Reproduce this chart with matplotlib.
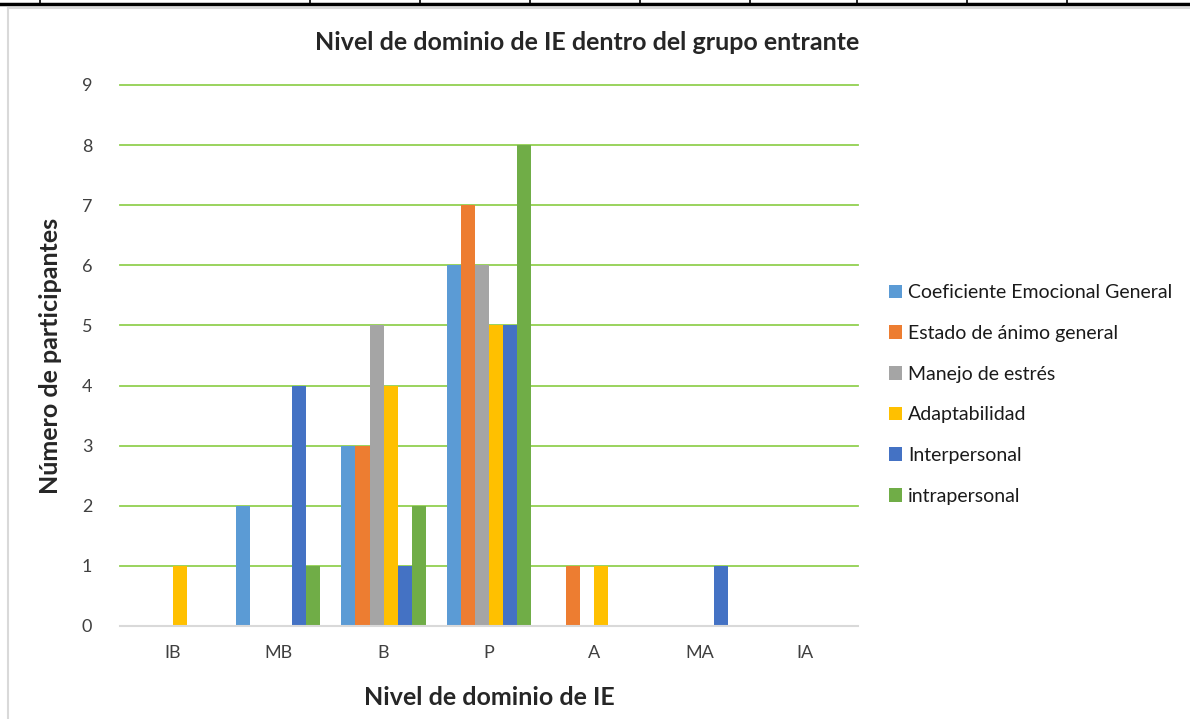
import matplotlib.pyplot as plt
import numpy as np
from matplotlib.lines import Line2D

plt.rcParams['font.family'] = ['Lato', 'DejaVu Sans']

niveles = ['IB', 'MB', 'B', 'P', 'A', 'MA', 'IA']
series = ['Coeficiente Emocional General', 'Estado de ánimo general',
          'Manejo de estrés', 'Adaptabilidad', 'Interpersonal', 'intrapersonal']
ceg = [0, 2, 3, 6, 0, 0, 0]
animo = [0, 0, 3, 7, 1, 0, 0]
estres = [0, 0, 5, 6, 0, 0, 0]
adapt = [1, 0, 4, 5, 1, 0, 0]
inter = [0, 4, 1, 5, 0, 1, 0]
intra = [0, 1, 2, 8, 0, 0, 0]
valores = [ceg, animo, estres, adapt, inter, intra]
colores = ['#5B9BD5', '#ED7D31', '#A5A5A5', '#FFC000', '#4472C4', '#70AD47']

W, H = 1190, 719
fig = plt.figure(figsize=(W / 100, H / 100), dpi=100)
ax = fig.add_axes([120 / W, 1 - 626 / H, 738 / W, 541 / H])

x = np.arange(len(niveles))
w = 0.8 / len(series)
for i, (lab, v, c) in enumerate(zip(series, valores, colores)):
    ax.bar(x - 0.4 + w * (i + 0.5), v, w, color=c, label=lab, zorder=3)

ax.set_xlim(-0.5, len(niveles) - 0.5)
ax.set_ylim(0, 9)
ax.set_yticks(range(10))
ax.set_xticks(x)
ax.set_xticklabels(niveles)
ax.grid(axis='y', color='#92D050', linewidth=1.3, zorder=0)
for gl in ax.get_ygridlines():
    gl.set_clip_on(False)
ax.tick_params(length=0, labelsize=13, colors='#404040', pad=20)
ax.tick_params(axis='x', pad=14)
for s in ['top', 'right', 'left']:
    ax.spines[s].set_visible(False)
ax.spines['bottom'].set_color('#D9D9D9')
ax.spines['bottom'].set_linewidth(1.5)
ax.spines['bottom'].set_zorder(4)

fig.text(587 / W, 1 - 43 / H, 'Nivel de dominio de IE dentro del grupo entrante',
         fontsize=18, fontweight='bold', color='#262626', ha='center', va='center')
ax.set_xlabel('Nivel de dominio de IE', fontsize=18, fontweight='bold',
              color='#262626', labelpad=18)
ax.set_ylabel('Número de participantes', fontsize=18, fontweight='bold',
              color='#262626', labelpad=14)

leg = ax.legend(loc='center left', bbox_to_anchor=(1.018, 0.428), frameon=False,
                fontsize=14, handlelength=0.7, handleheight=0.7,
                handletextpad=0.3, labelspacing=1.22)
for t in leg.get_texts():
    t.set_color('#1a1a1a')

# table border lines above the chart and the chart frame
fig.add_artist(Line2D([0, 1], [1 - 4 / H, 1 - 4 / H], color='black', lw=2.5))
for xv in [40, 310, 420, 530, 640, 750, 857, 967, 1067]:
    fig.add_artist(Line2D([xv / W, xv / W], [1 - 4 / H, 1], color='black', lw=1.2))
fig.add_artist(Line2D([8 / W, 1], [1 - 8 / H, 1 - 8 / H], color='#D9D9D9', lw=1.5))
fig.add_artist(Line2D([8 / W, 8 / W], [0, 1 - 8 / H], color='#D9D9D9', lw=1.5))

fig.savefig('out.png', dpi=100)
